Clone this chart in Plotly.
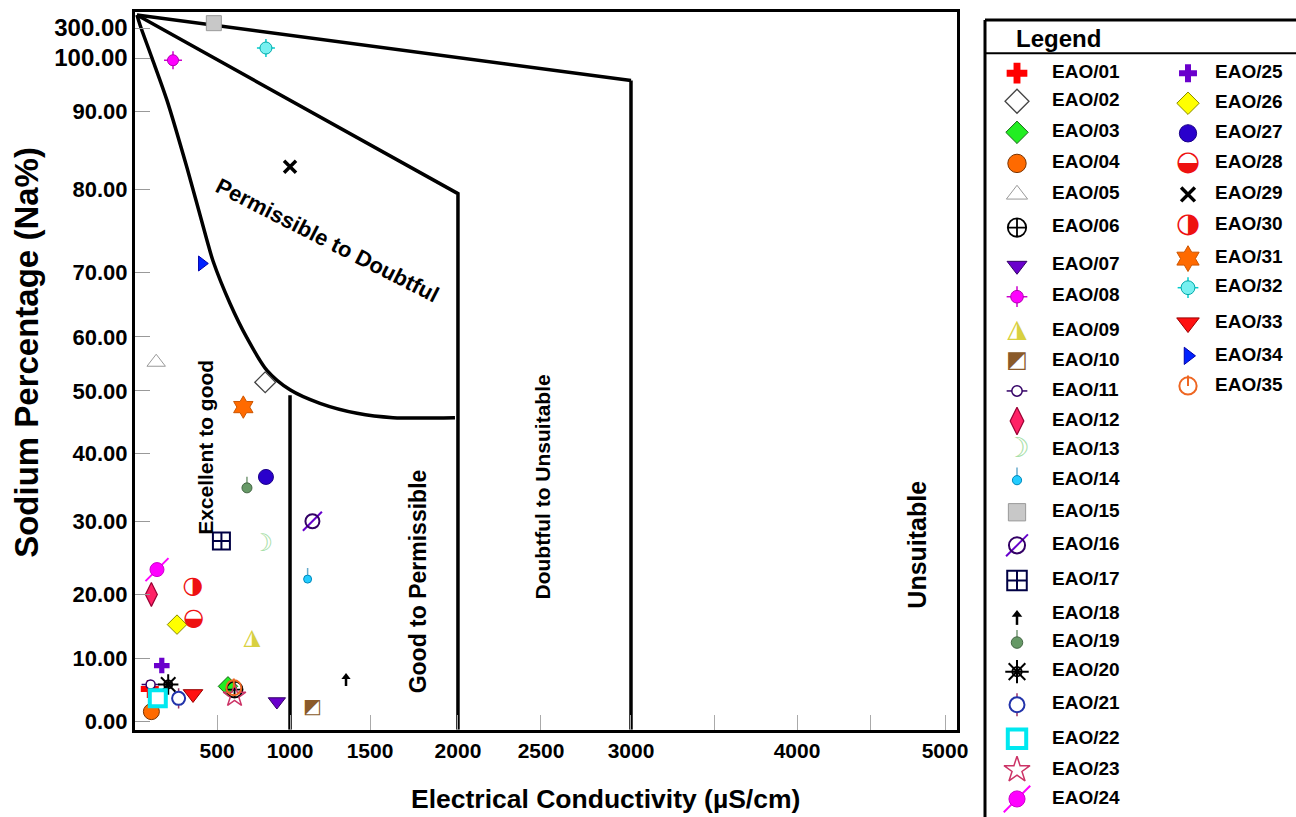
import numpy as np
import plotly.graph_objects as go

# ---------------- data ----------------
SAMPLES = ['EAO/01', 'EAO/02', 'EAO/03', 'EAO/04', 'EAO/05', 'EAO/06', 'EAO/07',
           'EAO/08', 'EAO/09', 'EAO/10', 'EAO/11', 'EAO/12', 'EAO/13', 'EAO/14',
           'EAO/15', 'EAO/16', 'EAO/17', 'EAO/18', 'EAO/19', 'EAO/20', 'EAO/21',
           'EAO/22', 'EAO/23', 'EAO/24', 'EAO/25', 'EAO/26', 'EAO/27', 'EAO/28',
           'EAO/29', 'EAO/30', 'EAO/31', 'EAO/32', 'EAO/33', 'EAO/34', 'EAO/35']
EC = [80, 830, 575, 90, 120, 620, 910, 225, 740, 1140, 85, 90, 810, 1110, 480,
      1140, 530, 1350, 705, 195, 260, 130, 620, 125, 155, 250, 835, 355, 1000,
      350, 680, 835, 350, 405, 615]
NA = [5.2, 51.6, 5.6, 1.6, 55.3, 5.1, 3.2, 99.6, 13.1, 2.1, 5.9, 20.0, 26.8, 22.1,
      330, 30.0, 27.3, 7.1, 34.9, 5.9, 3.7, 3.7, 4.1, 23.4, 8.9, 15.3, 36.5, 16.1,
      82.9, 21.0, 47.4, 167, 4.4, 71.1, 5.4]

X_TICK_VALUES = [500, 1000, 1500, 2000, 2500, 3000, 3500, 4000, 4500, 5000]
X_TICK_LABELS = ['500', '1000', '1500', '2000', '2500', '3000', '', '4000', '', '5000']
Y_TICK_VALUES = [0, 10, 20, 30, 40, 50, 60, 70, 80, 90, 100, 300]
Y_TICK_LABELS = ['0.00', '10.00', '20.00', '30.00', '40.00', '50.00', '60.00',
                 '70.00', '80.00', '90.00', '100.00', '300.00']

# Wilcox-type boundary lines (EC, Na%)
TOP_EC = [0, 3000]
TOP_NA = [380, 95.8]
MID_EC = [0, 2000, 2000]
MID_NA = [380, 79.5, -1.3]
CURVE_EC = [0, 19, 94, 187, 312, 437, 475, 589, 705, 842, 1000, 1187, 1419, 1631, 1983]
CURVE_NA = [380, 319, 100, 92.1, 82.8, 73.9, 71.4, 65.2, 59.8, 53.8, 50.2, 48.0, 46.4, 45.7, 45.7]
V1000_EC = [1000, 1000]
V1000_NA = [49.3, -1.3]
V3000_EC = [3000, 3000]
V3000_NA = [95.8, -1.3]

REGION_TEXT = ['Permissible to Doubtful', 'Excellent to good', 'Good to Permissible',
               'Doubtful to Unsuitable', 'Unsuitable']
REGION_EC = [1237, 431, 1773, 2511, 4813]
REGION_NA = [73.9, 41, 21.8, 35.1, 26.8]

# ---------------- distorted scale of the original diagram ----------------
EC_SCALE = [0, 500, 1000, 1500, 2000, 2500, 3000, 3500, 4000, 4500, 5000]
EC_POS = [0.0024, 0.0998, 0.1886, 0.2859, 0.3929, 0.4939, 0.6034, 0.7044, 0.8054, 0.8942, 0.9854]
NA_SCALE = [-1.3, 0, 10, 20, 30, 40, 50, 60, 70, 80, 90, 100, 300, 380]
NA_POS = [0.0, 0.0112, 0.0992, 0.1885, 0.2905, 0.3855, 0.4721, 0.5475, 0.6369,
          0.7528, 0.8617, 0.9358, 0.9777, 0.9958]


def ecp(v):
    return np.interp(v, EC_SCALE, EC_POS)


def nap(v):
    return np.interp(v, NA_SCALE, NA_POS)


# ---------------- marker styles ----------------
def M(sym, size, fill=None, line=None, lw=0, ey=None, ex=None, ec=None, et=1.5):
    return dict(kind='m', sym=sym, size=size, fill=fill, line=line, lw=lw, ey=ey, ex=ex, ec=ec, et=et)


def T(ch, size, color):
    return dict(kind='t', ch=ch, size=size, color=color)


STYLES = {
    'EAO/01': [M('cross', 15, '#ff0000', '#ff0000', 0)],
    'EAO/02': [M('diamond', 16, 'white', '#444444', 1.3)],
    'EAO/03': [M('diamond', 15, '#22ee22', '#1a661a', 1)],
    'EAO/04': [M('circle', 16, '#ff6a00', '#7a3300', 1)],
    'EAO/05': [M('triangle-up', 16, 'white', '#999999', 1)],
    'EAO/06': [M('circle-cross-open', 16, '#000000', None, 1.8)],
    'EAO/07': [M('triangle-down', 15, '#6a00cc', '#330066', 1)],
    'EAO/08': [M('circle', 11, '#ff00ff', '#b000b0', 1, ey=(9, 9), ex=(9, 9), ec='#cc00cc')],
    'EAO/09': [T('\u25ee', 22, '#d8d040')],
    'EAO/10': [T('\u25e9', 20, '#8a5a2a')],
    'EAO/11': [M('circle', 9, 'white', '#330066', 1.5, ex=(9, 9), ec='#330066')],
    'EAO/12': [M('diamond-tall', 17, '#ff2266', '#990033', 1.2)],
    'EAO/13': [T('\u263d', 24, '#a8e0a8')],
    'EAO/14': [M('circle', 8, '#22ccff', '#0088bb', 1, ey=(11, 0), ec='#66aacc')],
    'EAO/15': [M('square', 15, '#c8c8c8', '#999999', 1)],
    'EAO/16': [M('line-ne-open', 19, '#6600cc', None, 2), M('circle-open', 14, '#330066', None, 2)],
    'EAO/17': [M('square-cross-open', 17, '#000044', None, 2)],
    'EAO/18': [M('triangle-up', 8, '#000000', '#000000', 0, ey=(0, 9), ec='#000000', et=2.5)],
    'EAO/19': [M('circle', 10, '#669966', '#446644', 1, ey=(11, 0), ec='#779977')],
    'EAO/20': [M('asterisk-open', 17, '#000000', None, 2), M('circle-open', 8, '#000000', None, 2)],
    'EAO/21': [M('circle', 13, 'white', '#2233aa', 2, ey=(10, 10), ec='#993366')],
    'EAO/22': [M('square', 16, 'white', '#00e8f0', 4)],
    'EAO/23': [M('star-open', 17, '#cc3366', None, 1.5)],
    'EAO/24': [M('line-ne-open', 23, '#ff00ff', None, 2), M('circle', 14, '#ff00ff', '#cc00cc', 1)],
    'EAO/25': [M('cross', 13, '#6a00cc', '#6a00cc', 0)],
    'EAO/26': [M('diamond', 15, '#ffff00', '#888800', 1)],
    'EAO/27': [M('circle', 15, '#2a00cc', '#1a0088', 1)],
    'EAO/28': [T('\u25d2', 24, '#ee1111')],
    'EAO/29': [M('x-thin-open', 12, '#000000', None, 3.5)],
    'EAO/30': [T('\u25d1', 24, '#ee1111')],
    'EAO/31': [M('hexagram', 17, '#ff6a00', '#cc5500', 1)],
    'EAO/32': [M('circle', 12, '#77f0f0', '#00aaaa', 1, ey=(9, 9), ex=(9, 9), ec='#00cccc')],
    'EAO/33': [M('triangle-down', 17, '#ff1111', '#990000', 1)],
    'EAO/34': [M('triangle-right', 13, '#0022ff', '#0000aa', 1)],
    'EAO/35': [M('circle-open', 15, '#ee6622', None, 2, ey=(9, 0), ec='#ee6622', et=2)],
}

fig = go.Figure()


def add_sample(x, y, style, xa, ya, k, ux, uy):
    for L in style:
        if L['kind'] == 't':
            fig.add_trace(go.Scatter(
                x=[x], y=[y], mode='text', text=[L['ch']], textposition='middle center',
                textfont=dict(size=L['size'] * k, color=L['color'], family='DejaVu Sans'),
                xaxis=xa, yaxis=ya, showlegend=False, hoverinfo='skip', cliponaxis=False))
            continue
        open_sym = L['sym'].endswith('-open')
        if open_sym:
            marker = dict(symbol=L['sym'], size=L['size'] * k, color=L['fill'],
                          line=dict(width=L['lw']))
        else:
            marker = dict(symbol=L['sym'], size=L['size'] * k, color=L['fill'],
                          line=dict(color=L['line'] or 'rgba(0,0,0,0)', width=L['lw']))
        tr = go.Scatter(x=[x], y=[y], mode='markers', marker=marker, xaxis=xa, yaxis=ya,
                        showlegend=False, hoverinfo='skip', cliponaxis=False)
        if L['ey'] is not None:
            up, dn = L['ey']
            tr.error_y = dict(type='data', symmetric=False, array=[up * k * uy],
                              arrayminus=[dn * k * uy], width=0, thickness=L['et'], color=L['ec'])
        if L['ex'] is not None:
            rt, lt = L['ex']
            tr.error_x = dict(type='data', symmetric=False, array=[rt * k * ux],
                              arrayminus=[lt * k * ux], width=0, thickness=L['et'], color=L['ec'])
        fig.add_trace(tr)


# boundary lines
for xs, ys, shape in [(TOP_EC, TOP_NA, 'linear'), (MID_EC, MID_NA, 'linear'),
                      (CURVE_EC, CURVE_NA, 'spline'), (V1000_EC, V1000_NA, 'linear'),
                      (V3000_EC, V3000_NA, 'linear')]:
    fig.add_trace(go.Scatter(x=ecp(xs), y=nap(ys), mode='lines',
                             line=dict(color='black', width=3.5, shape=shape, smoothing=0.8),
                             showlegend=False, hoverinfo='skip'))

# samples on the diagram
UX, UY = 1 / 822, 1 / 716
for name, e, n in zip(SAMPLES, EC, NA):
    add_sample(float(ecp(e)), float(nap(n)), STYLES[name], 'x', 'y', 1.0, UX, UY)

# legend (drawn panel)
COL1_Y = [73, 101, 132, 163, 194, 227, 265, 296, 330, 360, 390, 420, 449, 479, 511, 544,
          579, 613, 641, 670, 703, 737, 768, 797]
COL2_Y = [73, 103, 133, 163, 194, 225, 258, 287, 322, 355, 385]
H = 817
leg_x, leg_y, leg_t = [], [], []
for i, name in enumerate(SAMPLES):
    if i < len(COL1_Y):
        sx, sy, tx = 1017, COL1_Y[i], 1052
    else:
        sx, sy, tx = 1188, COL2_Y[i - len(COL1_Y)], 1215
    add_sample(sx, H - sy, STYLES[name], 'x2', 'y2', 1.15, 1, 1)
    leg_x.append(tx)
    leg_y.append(H - sy)
    leg_t.append(name)
fig.add_trace(go.Scatter(x=leg_x, y=leg_y, text=leg_t, mode='text', textposition='middle right',
                         textfont=dict(size=19, color='black', family='Liberation Sans', weight='bold'),
                         xaxis='x2', yaxis='y2', showlegend=False, hoverinfo='skip', cliponaxis=True))

# region labels
REGION_SIZE = [22, 21, 23, 21, 25]
for txt, e, n, s in zip(REGION_TEXT, REGION_EC, REGION_NA, REGION_SIZE):
    ang = 27 if txt.startswith('Permissible') else -90
    fig.add_annotation(x=float(ecp(e)), y=float(nap(n)), xref='x', yref='y', text=txt,
                       textangle=ang, showarrow=False, xanchor='center', yanchor='middle',
                       font=dict(size=s, color='black', family='Liberation Sans', weight='bold'))

X0, X1 = 135 / 1296, 957 / 1296
Y0, Y1 = (817 - 728) / 817, (817 - 12) / 817

y_ticktext = [t if v < 100 else '<span style="font-size:24px">%s</span>' % t
              for v, t in zip(Y_TICK_VALUES, Y_TICK_LABELS)]

# the page is photographed slightly larger than the figure; fill it
FIG_W, FIG_H = 1307, 824

fig.update_layout(
    width=FIG_W, height=FIG_H, autosize=False, margin=dict(l=0, r=0, t=0, b=0),
    paper_bgcolor='white', plot_bgcolor='white', showlegend=False,
    font=dict(family='Liberation Sans', color='black'),
    xaxis=dict(domain=[X0, X1], range=[0, 1], tickmode='array',
               tickvals=list(ecp(X_TICK_VALUES)), ticktext=X_TICK_LABELS,
               ticks='inside', ticklen=15, tickwidth=1, tickcolor='#aaaaaa',
               showgrid=False, zeroline=False, showline=True, linewidth=3, linecolor='black',
               mirror=True, anchor='y',
               tickfont=dict(size=21, family='Liberation Sans Narrow, Liberation Sans, sans-serif',
                             weight='bold', color='black')),
    yaxis=dict(domain=[Y0, Y1], range=[0, 1], tickmode='array',
               tickvals=list(nap(Y_TICK_VALUES)), ticktext=y_ticktext,
               ticks='inside', ticklen=15, tickwidth=1, tickcolor='#999999',
               showgrid=False, zeroline=False, showline=True, linewidth=3, linecolor='black',
               mirror=True, anchor='x',
               tickfont=dict(size=22, family='Liberation Sans', weight='bold', color='black')),
    xaxis2=dict(domain=[985 / 1296, 1.0], range=[985, 1296], visible=False, anchor='y2'),
    yaxis2=dict(domain=[0, 1], range=[0, 817], visible=False, anchor='x2'),
)

# legend frame (kept inside the figure)
LX0 = 985 / 1296
LTOP = (817 - 20) / 817
LSEP = (817 - 53) / 817
fig.add_shape(type='line', xref='paper', yref='paper', x0=LX0, x1=LX0, y0=0, y1=LTOP,
              line=dict(color='black', width=3))
fig.add_shape(type='line', xref='paper', yref='paper', x0=LX0, x1=1.0, y0=LTOP, y1=LTOP,
              line=dict(color='black', width=3))
fig.add_shape(type='line', xref='paper', yref='paper', x0=LX0, x1=1.0, y0=LSEP, y1=LSEP,
              line=dict(color='black', width=2))
fig.add_annotation(x=1058 / 1296, y=(817 - 38) / 817, xref='paper', yref='paper', text='Legend',
                   showarrow=False, xanchor='center', yanchor='middle',
                   font=dict(size=24, family='Liberation Sans', weight='bold'))

# axis titles
fig.add_annotation(x=605 / 1296, y=(817 - 797) / 817, xref='paper', yref='paper',
                   text='Electrical Conductivity (\u00b5S/cm)', showarrow=False,
                   xanchor='center', yanchor='middle',
                   font=dict(size=26.5, family='Liberation Sans Narrow, Liberation Sans, sans-serif',
                             weight='bold'))
fig.add_annotation(x=27 / 1296, y=(817 - 352) / 817, xref='paper', yref='paper',
                   text='Sodium Percentage (Na%)', textangle=-90, showarrow=False,
                   xanchor='center', yanchor='middle',
                   font=dict(size=33, family='Liberation Sans', weight='bold'))

PAGE_CSS = ("var s=document.createElement('style');"
            "s.textContent='html,body{margin:0;padding:0;overflow:hidden;}"
            ".plotly-graph-div{margin:0;}';"
            "document.head.appendChild(s);")

fig.write_html('out.html', config={'displayModeBar': False, 'responsive': False},
               post_script=PAGE_CSS)
